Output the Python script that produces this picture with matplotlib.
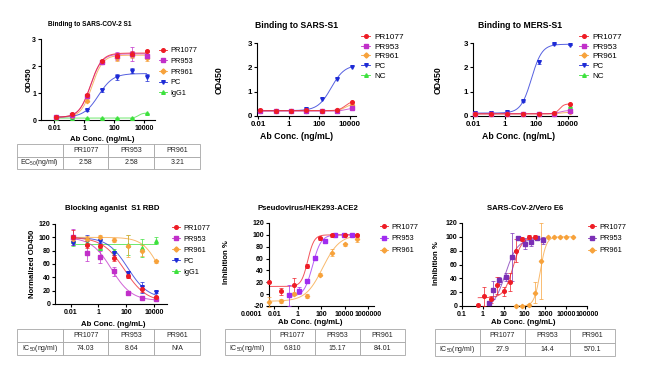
import numpy as np
import matplotlib
matplotlib.use("Agg")
import matplotlib.pyplot as plt
from matplotlib.lines import Line2D

plt.rcParams["font.family"] = ["Liberation Sans", "DejaVu Sans"]
plt.rcParams["mathtext.fontset"] = "custom"
plt.rcParams["mathtext.rm"] = "Liberation Sans"
plt.rcParams["mathtext.it"] = "Liberation Sans:italic"
plt.rcParams["mathtext.bf"] = "Liberation Sans:bold"

# ---------------- data ----------------
antibodies = ["PR1077", "PR953", "PR961"]

# binding ELISA, 10-fold dilutions (ng/mL)
conc_bind = [0.014, 0.14, 1.4, 14, 140, 1400, 14000]

# SARS-CoV-2 S1 binding (OD450)
cov2_pr1077 = [0.12, 0.21, 0.93, 2.19, 2.38, 2.44, 2.56]
cov2_pr953 = [0.10, 0.19, 0.88, 2.15, 2.36, 2.45, 2.36]
cov2_pr961 = [0.10, 0.15, 0.72, 2.14, 2.30, 2.40, 2.28]
cov2_pc = [0.10, 0.12, 0.37, 1.10, 1.60, 1.83, 1.58]
cov2_igg1 = [0.08, 0.07, 0.07, 0.07, 0.07, 0.08, 0.25]
cov2_err_pr1077 = [0.02, 0.02, 0.05, 0.05, 0.10, 0.10, 0.05]
cov2_err_pr953 = [0.0, 0.0, 0.05, 0.05, 0.15, 0.25, 0.10]
cov2_err_pr961 = [0.0, 0.0, 0.05, 0.05, 0.10, 0.10, 0.10]
cov2_err_pc = [0.0, 0.0, 0.02, 0.05, 0.12, 0.10, 0.12]
cov2_err_igg1 = [0.0, 0.0, 0.0, 0.0, 0.0, 0.0, 0.02]
# fitted 4PL (low-conc level, high-conc level, midpoint, hill)
cov2_fit_pr1077 = (0.10, 2.48, 2.58, 1.15)
cov2_fit_pr953 = (0.10, 2.45, 2.58, 1.15)
cov2_fit_pr961 = (0.10, 2.40, 3.21, 1.2)
cov2_fit_pc = (0.10, 1.72, 8.8, 0.9)
cov2_fit_igg1 = (0.07, 0.26, 4000, 3.0)
ec50_cov2 = ["2.58", "2.58", "3.21"]

# SARS-S1 binding
sars_pr1077 = [0.23, 0.21, 0.22, 0.23, 0.22, 0.25, 0.58]
sars_pr953 = [0.21, 0.20, 0.20, 0.22, 0.20, 0.22, 0.31]
sars_pr961 = [0.21, 0.20, 0.21, 0.22, 0.21, 0.23, 0.45]
sars_pc = [0.22, 0.22, 0.22, 0.28, 0.69, 1.54, 2.01]
sars_nc = [0.20, 0.19, 0.20, 0.20, 0.19, 0.22, 0.50]
sars_fit_pr1077 = (0.22, 0.62, 5000, 2.0)
sars_fit_pr953 = (0.20, 0.32, 5000, 2.0)
sars_fit_pr961 = (0.21, 0.50, 5000, 2.0)
sars_fit_pc = (0.22, 2.10, 600, 1.0)

# MERS-S1 binding
mers_pr1077 = [0.10, 0.10, 0.09, 0.08, 0.10, 0.12, 0.50]
mers_pr953 = [0.10, 0.09, 0.08, 0.08, 0.09, 0.10, 0.22]
mers_pr961 = [0.09, 0.08, 0.08, 0.08, 0.08, 0.09, 0.15]
mers_pc = [0.12, 0.12, 0.15, 0.60, 2.22, 2.95, 2.90]
mers_nc = [0.08, 0.08, 0.08, 0.08, 0.08, 0.09, 0.40]
mers_err_pc = [0, 0, 0, 0.02, 0.08, 0, 0]
mers_fit_pr1077 = (0.09, 0.50, 3000, 3.0)
mers_fit_pr953 = (0.09, 0.23, 3000, 2.0)
mers_fit_pr961 = (0.08, 0.15, 3000, 2.0)
mers_fit_pc = (0.12, 2.95, 50, 1.3)

# blocking S1 RBD (normalized OD450)
block_pr1077 = [101, 89, 87.5, 69, 41.5, 22.5, 10]
block_pr953 = [100, 76, 71, 49, 16.5, 9, 8]
block_pr961 = [98, 97, 100, 96, 87, 80, 64]
block_pc = [92, 96, 95, 76, 47, 25, 18]
block_igg1 = [95, 92, 84, 80, 88, 84, 95]
block_err_pr1077 = [10, 5, 3, 5, 3, 5, 2]
block_err_pr953 = [12, 11, 9, 7, 2, 2, 2]
block_err_pr961 = [3, 5, 4, 3, 16, 8, 2]
block_err_pc = [3, 8, 3, 3, 3, 8, 2]
block_err_igg1 = [8, 3, 3, 3, 15, 13, 5]
block_fit_pr1077 = (100, 3, 74, 0.55)
block_fit_pr953 = (100, 5, 8.64, 0.6)
block_fit_pr961 = (100, 0, 30000, 0.7)
block_fit_pc = (100, 8, 130, 0.6)
block_fit_igg1 = (90, 90, 1, 1)
ic50_block = ["74.03", "8.64", "N/A"]

# pseudovirus neutralization (inhibition %)
pv_conc = [0.0037, 0.04, 0.46, 5.9, 72, 850, 10000, 112000]
pv_conc_pr953 = [0.18, 1.2, 6.3, 32, 200, 1450, 8000, 40000]
pv_pr1077 = [20, 5, 15, 47, 94, 99, 100, 99]
pv_pr953 = [-2, 6, 22, 61, 90, 100, 100, 100]
pv_pr961 = [-13, -12, 1, -3, 33, 70, 84, 93]
pv_err_pr1077 = [0, 6, 13, 3, 2, 2, 2, 2]
pv_err_pr953 = [18, 6, 4, 4, 3, 2, 1, 1]
pv_err_pr961 = [8, 3, 3, 3, 2, 6, 3, 5]
pv_fit_pr1077 = (13, 100, 7.0, 1.6)
pv_fit_pr953 = (-4, 100, 18, 1.2)
pv_fit_pr961 = (-12, 100, 130, 0.6)
ic50_pv = ["6.810", "15.17", "84.01"]

# live virus, Vero E6 (inhibition %)
vero_conc_pr1077 = [0.6, 1.2, 2.5, 5, 10, 20, 40, 80, 160, 320]
vero_conc_pr953 = [2, 3, 6.2, 12.5, 25, 50, 100, 200, 400, 800]
vero_conc_pr961 = [40, 80, 160, 320, 640, 1280, 2560, 5120, 10240, 20480]
vero_pr1077 = [1, 14, 10, 30, 21, 35, 80, 97, 100, 100]
vero_pr953 = [5, 23, 37, 42, 71, 98, 90, 93, 99, 95]
vero_pr961 = [0, 0, 1, 19, 65, 100, 100, 100, 100, 100]
vero_err_pr1077 = [0, 14, 5, 12, 6, 13, 17, 3, 3, 2]
vero_err_pr953 = [2, 13, 5, 6, 35, 3, 8, 6, 2, 5]
vero_err_pr961 = [0, 0, 0, 15, 55, 0, 0, 0, 0, 0]
vero_fit_pr1077 = (12, 100, 27.9, 2.0)
vero_fit_pr953 = (-5, 97, 12, 1.5)
vero_fit_pr961 = (0, 100, 570, 3.0)
ic50_vero = ["27.9", "14.4", "570.1"]

# ---------------- styling ----------------
RED = "#ee1c25"
MAG = "#c12fc9"
ORA = "#f7a23b"
BLUE = "#1d2bd6"
GRN = "#3de13d"
PUR5 = "#a02cf0"
PUR6 = "#7b2fb5"

W, H = 650, 375
fig = plt.figure(figsize=(6.5, 3.75), dpi=100)


def box(l, t, r, b):
    return [l / W, 1 - b / H, (r - l) / W, (b - t) / H]


def fx(x):
    return x / W


def fy(y):
    return 1 - y / H


def curve(x, p):
    a, b, mid, hill = p
    return a + (b - a) / (1 + (mid / x) ** hill)


def style_axes(ax, xlim, xticks, xlabels, ylim, yticks, fs=5):
    ax.set_xscale("log")
    ax.set_xlim(xlim)
    ax.set_ylim(ylim)
    ax.set_xticks(xticks, xlabels, fontsize=fs, fontweight="bold")
    ax.set_yticks(yticks, [str(v) for v in yticks], fontsize=fs, fontweight="bold")
    ax.minorticks_off()
    for s in ["top", "right"]:
        ax.spines[s].set_visible(False)
    for s in ["left", "bottom"]:
        ax.spines[s].set_linewidth(0.8)
    ax.tick_params(length=2, width=0.8, pad=1.5)
    ax.patch.set_alpha(0)


def draw_series(ax, x, y, err, fit, color, marker, ms=2.6):
    ax.errorbar(x, y, yerr=err, fmt=marker, color=color, ms=ms, elinewidth=0.5,
                capsize=1.2, capthick=0.5, zorder=3, clip_on=False)
    if fit is not None:
        xs = np.logspace(np.log10(min(x)), np.log10(max(x)), 200)
        ax.plot(xs, curve(xs, fit), color=color, lw=0.7, alpha=0.75, zorder=2)


def labels(ax, title, tpos, xl, xpos, yl, ypos, tfs=5.6, fs=5.6):
    fig.text(fx(tpos[0]), fy(tpos[1]), title, ha="center", va="center",
             fontsize=tfs, fontweight="bold")
    ax.set_xlabel(xl, fontsize=fs, fontweight="bold")
    ax.xaxis.label.set_va("center")
    ax.xaxis.set_label_coords(fx(xpos[0]), fy(xpos[1]), transform=fig.transFigure)
    ax.set_ylabel(yl, fontsize=fs, fontweight="bold")
    ax.yaxis.label.set_va("center")
    ax.yaxis.set_label_coords(fx(ypos[0]), fy(ypos[1]), transform=fig.transFigure)


def legend(ax, names, colors, markers, x, y, spacing, fs=5.3):
    handles = [Line2D([], [], color=c, marker=m, ms=2.6, lw=0.6)
               for c, m in zip(colors, markers)]
    ax.legend(handles, names, loc="upper left", bbox_to_anchor=(fx(x), fy(y)),
              bbox_transform=fig.transFigure, frameon=False, fontsize=fs,
              handlelength=1.1, handletextpad=0.5, labelspacing=spacing,
              borderpad=0, borderaxespad=0)


def draw_table(l, t, r, b, row_label, values):
    tax = fig.add_axes(box(l, t, r, b))
    tax.axis("off")
    tbl = tax.table(cellText=[[""] + antibodies, [row_label] + values],
                    bbox=[0, 0, 1, 1], cellLoc="center")
    tbl.auto_set_font_size(False)
    tbl.set_fontsize(5)
    for cell in tbl.get_celld().values():
        cell.set_edgecolor("#a6a6a6")
        cell.set_linewidth(0.6)
        cell.get_text().set_color("#222222")


bind_ticks = [0.01, 1, 100, 10000]
bind_labels = ["0.01", "1", "100", "10000"]
names5 = antibodies + ["PC", "IgG1"]
names5nc = antibodies + ["PC", "NC"]
colors5 = [RED, MAG, ORA, BLUE, GRN]
markers5 = ["o", "s", "D", "v", "^"]

# ---- panel 1: SARS-CoV-2 S1 binding ----
ax1 = fig.add_axes(box(41, 39, 155, 120))
style_axes(ax1, (0.0013, 51000), bind_ticks, bind_labels, (0, 3), [0, 1, 2, 3])
draw_series(ax1, conc_bind, cov2_igg1, cov2_err_igg1, cov2_fit_igg1, GRN, "^")
draw_series(ax1, conc_bind, cov2_pc, cov2_err_pc, cov2_fit_pc, BLUE, "v")
draw_series(ax1, conc_bind, cov2_pr961, cov2_err_pr961, cov2_fit_pr961, ORA, "D", 2.2)
draw_series(ax1, conc_bind, cov2_pr953, cov2_err_pr953, cov2_fit_pr953, MAG, "s")
draw_series(ax1, conc_bind, cov2_pr1077, cov2_err_pr1077, cov2_fit_pr1077, RED, "o")
labels(ax1, "Binding to SARS-COV-2 S1", (90, 25), "Ab Conc. (ng/mL)", (102, 140),
       "OD450", (29, 80), tfs=4.7)
legend(ax1, names5, colors5, markers5, 159, 47, 0.48)
draw_table(17, 144, 200, 169, "EC$_{50}$(ng/ml)", ec50_cov2)

# ---- panel 2: SARS-S1 binding ----
ax2 = fig.add_axes(box(257, 43, 356, 116))
style_axes(ax2, (0.0085, 25000), bind_ticks, bind_labels, (0, 3), [0, 1, 2, 3], fs=5.7)
draw_series(ax2, conc_bind, sars_nc, None, None, GRN, "^")
draw_series(ax2, conc_bind, sars_pc, None, sars_fit_pc, BLUE, "v")
draw_series(ax2, conc_bind, sars_pr961, None, sars_fit_pr961, ORA, "D", 2.2)
draw_series(ax2, conc_bind, sars_pr953, None, sars_fit_pr953, MAG, "s")
draw_series(ax2, conc_bind, sars_pr1077, None, sars_fit_pr1077, RED, "o")
labels(ax2, "Binding to SARS-S1", (297, 26), "Ab Conc. (ng/mL)", (297, 137),
       "OD450", (219, 80), tfs=6.2, fs=6.3)
legend(ax2, names5nc, colors5, markers5, 361, 33, 0.25, fs=5.9)

# ---- panel 3: MERS-S1 binding ----
ax3 = fig.add_axes(box(473, 43, 577, 116))
style_axes(ax3, (0.012, 38000), bind_ticks, bind_labels, (0, 3), [0, 1, 2, 3], fs=5.7)
draw_series(ax3, conc_bind, mers_nc, None, None, GRN, "^")
draw_series(ax3, conc_bind, mers_pc, mers_err_pc, mers_fit_pc, BLUE, "v")
draw_series(ax3, conc_bind, mers_pr961, None, mers_fit_pr961, ORA, "D", 2.2)
draw_series(ax3, conc_bind, mers_pr953, None, mers_fit_pr953, MAG, "s")
draw_series(ax3, conc_bind, mers_pr1077, None, mers_fit_pr1077, RED, "o")
labels(ax3, "Binding to MERS-S1", (520, 26), "Ab Conc. (ng/mL)", (519, 137),
       "OD450", (438, 80), tfs=6.2, fs=6.3)
legend(ax3, names5nc, colors5, markers5, 579, 33, 0.25, fs=5.9)

# ---- panel 4: blocking S1 RBD ----
ax4 = fig.add_axes(box(55, 224, 167, 304))
style_axes(ax4, (0.00075, 85000), bind_ticks, bind_labels, (0, 120),
           [0, 20, 40, 60, 80, 100, 120])
draw_series(ax4, conc_bind, block_igg1, block_err_igg1, block_fit_igg1, GRN, "^")
draw_series(ax4, conc_bind, block_pc, block_err_pc, block_fit_pc, BLUE, "v")
draw_series(ax4, conc_bind, block_pr961, block_err_pr961, block_fit_pr961, ORA, "D", 2.2)
draw_series(ax4, conc_bind, block_pr953, block_err_pr953, block_fit_pr953, MAG, "s")
draw_series(ax4, conc_bind, block_pr1077, block_err_pr1077, block_fit_pr1077, RED, "o")
labels(ax4, "Blocking aganist  S1 RBD", (112, 209), "Ab Conc. (ng/mL)", (113, 325),
       "Normalized OD450", (32, 264))
legend(ax4, names5, colors5, markers5, 172, 224.5, 0.52)
draw_table(17, 329, 200, 355, "IC$_{50}$(ng/ml)", ic50_block)

# ---- panel 5: pseudovirus ----
ax5 = fig.add_axes(box(251, 223, 374, 306))
ax5.set_xscale("log")
ax5.set_xlim(1e-4, 3.2e6)
ax5.spines["left"].set_position(("data", 0.0033))
style_axes(ax5, (1e-4, 3.2e6), [1e-4, 1e-2, 1, 100, 1e4, 1e6],
           ["0.0001", "0.01", "1", "100", "10000", "1000000"], (-20, 120),
           [-20, 0, 20, 40, 60, 80, 100, 120])
ax5.spines["bottom"].set_bounds(0.0033, 3.2e6)
ax5.xaxis.get_major_ticks()[0].tick1line.set_visible(False)
draw_series(ax5, pv_conc, pv_pr961, pv_err_pr961, pv_fit_pr961, ORA, "D", 2.2)
draw_series(ax5, pv_conc_pr953, pv_pr953, pv_err_pr953, pv_fit_pr953, PUR5, "s")
draw_series(ax5, pv_conc, pv_pr1077, pv_err_pr1077, pv_fit_pr1077, RED, "o")
labels(ax5, "Pseudovirus/HEK293-ACE2", (308, 208), "Ab Conc. (ng/mL)", (310, 323),
       "Inhibition %", (227, 262))
legend(ax5, antibodies, [RED, PUR5, ORA], ["o", "s", "D"], 380, 223.5, 0.62)
draw_table(225, 329, 405, 355, "IC$_{50}$(ng/ml)", ic50_pv)

# ---- panel 6: live virus ----
ax6 = fig.add_axes(box(462, 223, 587, 306))
style_axes(ax6, (0.1, 1e5), [0.1, 1, 10, 100, 1000, 10000, 100000],
           ["0.1", "1", "10", "100", "1000", "10000", "100000"], (0, 120),
           [0, 20, 40, 60, 80, 100, 120])
draw_series(ax6, vero_conc_pr961, vero_pr961, vero_err_pr961, vero_fit_pr961, ORA, "D", 2.2)
draw_series(ax6, vero_conc_pr953, vero_pr953, vero_err_pr953, vero_fit_pr953, PUR6, "s")
draw_series(ax6, vero_conc_pr1077, vero_pr1077, vero_err_pr1077, vero_fit_pr1077, RED, "o")
labels(ax6, "SARS-CoV-2/Vero E6", (525, 208), "Ab Conc. (ng/mL)", (523, 323),
       "Inhibition %", (437, 263))
legend(ax6, antibodies, [RED, PUR6, ORA], ["o", "s", "D"], 588, 223.5, 0.62)
draw_table(435, 329, 615, 356, "IC$_{50}$(ng/ml)", ic50_vero)

fig.savefig("out.png", dpi=100)
